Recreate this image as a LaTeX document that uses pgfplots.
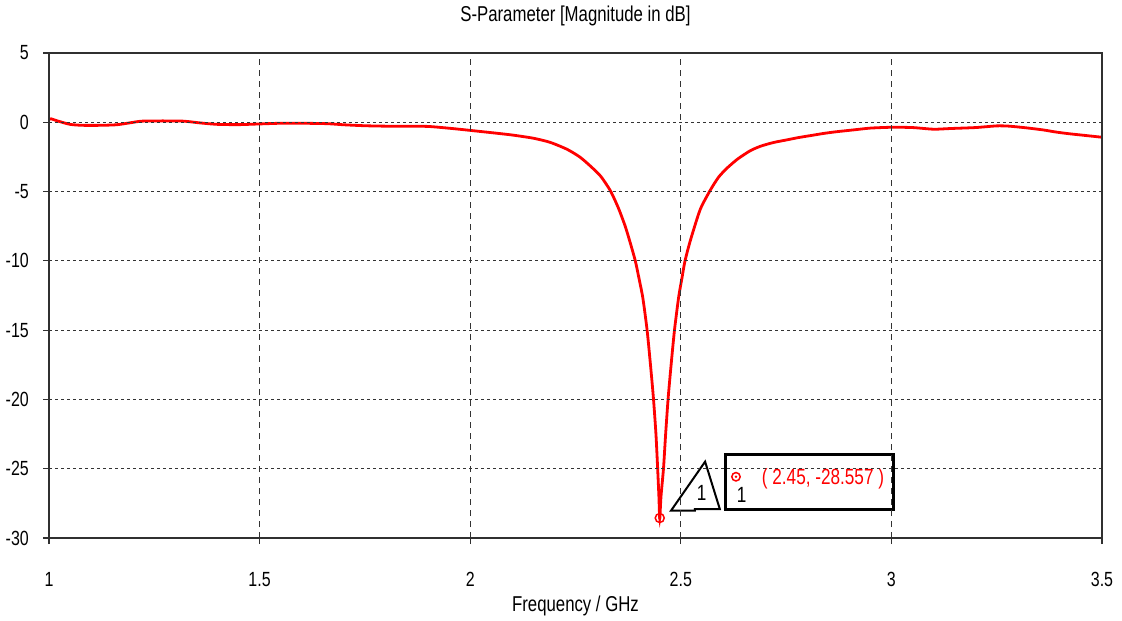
\documentclass[border=0pt]{standalone}
\usepackage{fontspec}
\setmainfont{Liberation Sans}[FakeStretch=0.78]
\usepackage{pgfplots}
\pgfplotsset{compat=1.18}

\definecolor{gridgray}{HTML}{333333}
\definecolor{axisgray}{HTML}{303030}

\newcommand{\tickfont}{\fontsize{20.5bp}{24bp}\selectfont}
\newcommand{\labelfont}{\fontsize{21.5bp}{24bp}\selectfont}
\newcommand{\notefont}{\fontsize{22bp}{24bp}\selectfont}

% S11 magnitude (dB) versus frequency (GHz)
\pgfplotstableread{
f      s11
1.000   0.20
1.005   0.25
1.020   0.10
1.050  -0.15
1.080  -0.22
1.120  -0.22
1.160  -0.18
1.190  -0.05
1.220   0.08
1.270   0.10
1.320   0.08
1.360  -0.05
1.400  -0.15
1.450  -0.17
1.500  -0.12
1.550  -0.07
1.600  -0.07
1.660  -0.10
1.700  -0.18
1.750  -0.25
1.800  -0.28
1.850  -0.28
1.900  -0.30
1.940  -0.40
1.980  -0.52
2.020  -0.65
2.060  -0.78
2.100  -0.92
2.150  -1.15
2.190  -1.45
2.230  -1.95
2.260  -2.50
2.285  -3.15
2.310  -3.90
2.333  -4.95
2.352  -6.20
2.368  -7.50
2.380  -8.70
2.392  -10.00
2.401  -11.30
2.410  -12.70
2.420  -15.00
2.428  -17.50
2.435  -19.90
2.441  -22.50
2.445  -24.95
2.448  -27.00
2.450  -28.557
2.453  -27.00
2.459  -24.95
2.464  -22.50
2.470  -19.90
2.477  -17.50
2.485  -15.00
2.495  -12.60
2.503  -11.20
2.510  -10.00
2.523  -8.50
2.546  -6.30
2.570  -4.90
2.590  -3.95
2.610  -3.30
2.635  -2.65
2.665  -2.05
2.690  -1.72
2.720  -1.46
2.750  -1.28
2.780  -1.10
2.810  -0.95
2.840  -0.80
2.870  -0.68
2.910  -0.55
2.950  -0.42
3.000  -0.36
3.050  -0.38
3.100  -0.50
3.140  -0.45
3.200  -0.38
3.250  -0.26
3.280  -0.28
3.320  -0.40
3.360  -0.55
3.390  -0.70
3.420  -0.82
3.460  -0.95
3.500  -1.08
}\sparam

\begin{document}
\begin{tikzpicture}
\begin{axis}[
  at={(0,0)}, anchor=south west,
  scale only axis, width=1053bp, height=485bp,
  xmin=1, xmax=3.5, ymin=-30, ymax=5,
  xtick={1,1.5,2,2.5,3,3.5},
  ytick={-30,-25,-20,-15,-10,-5,0,5},
  xticklabels={1,1.5,2,2.5,3,3.5},
  yticklabels={-30,-25,-20,-15,-10,-5,0,5},
  xtick pos=bottom, ytick pos=left,
  tick align=outside, major tick length=6bp,
  tick style={axisgray, line width=1.2bp},
  axis line style={axisgray, line width=1.5bp},
  axis on top,
  xmajorgrids, ymajorgrids,
  x grid style={gridgray, line width=1.2bp, dash pattern=on 6bp off 5bp},
  y grid style={gridgray, line width=1.2bp, dash pattern=on 3bp off 3bp},
  title={S-Parameter [Magnitude in dB]},
  title style={font=\labelfont, at={(0.5,1)}, anchor=base, yshift=26bp, inner sep=0pt},
  xlabel={Frequency / GHz},
  xlabel style={font=\labelfont, at={(0.5,0)}, anchor=base, yshift=-73bp, inner sep=0pt},
  xticklabel style={font=\tickfont, anchor=base, yshift=-42bp, inner sep=0pt},
  yticklabel style={font=\tickfont, anchor=east, xshift=-14bp, inner sep=0pt},
]
\addplot[red, line width=2.8bp, smooth, tension=0.4] table[x=f, y=s11] {\sparam};
% marker 1 at the resonance minimum
\addplot[only marks, red, mark=o, mark size=4.5bp, mark options={line width=1.5bp}] coordinates {(2.45,-28.557)};
\addplot[only marks, red, mark=*, mark size=1.4bp] coordinates {(2.45,-28.557)};

% marker flag and readout box
\draw[black, line width=2bp, line join=miter]
  (axis cs:2.4767,-28.03) -- (axis cs:2.5337,-28.03) -- (axis cs:2.5337,-27.91)
  -- (axis cs:2.5926,-27.91) -- (axis cs:2.5577,-24.49) -- cycle;
\node[font=\notefont, inner sep=0pt] at (axis cs:2.5496,-26.77) {1};
\draw[black, line width=3bp] (axis cs:2.605,-23.94) rectangle (axis cs:3.0045,-27.93);
\draw[red, line width=1.5bp] (axis cs:2.631,-25.58) circle[radius=4.2bp];
\fill[red] (axis cs:2.631,-25.58) circle[radius=1.4bp];
\node[font=\notefont, inner sep=0pt] at (axis cs:2.6444,-26.9) {1};
\node[font=\notefont, text=red, inner sep=0pt] at (axis cs:2.8376,-25.74) {( 2.45, -28.557 )};
\end{axis}
\pgfresetboundingbox
\useasboundingbox (-49bp,-83bp) rectangle (1073bp,538bp);
\end{tikzpicture}
\end{document}
